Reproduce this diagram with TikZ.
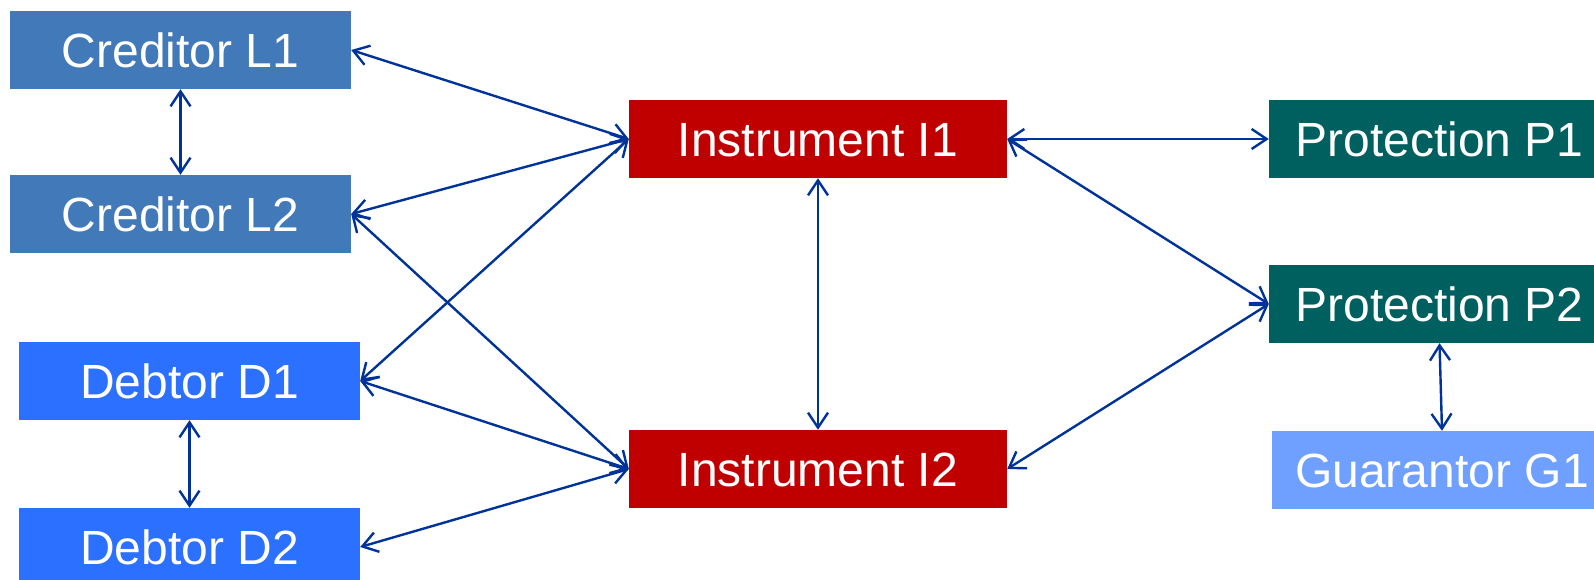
\documentclass[tikz,border=0pt]{standalone}
\usepackage{fontspec}
\setmainfont{Liberation Sans}
\usetikzlibrary{arrows.meta}
\definecolor{credc}{RGB}{66,121,185}
\definecolor{debc}{RGB}{43,112,255}
\definecolor{instc}{RGB}{192,0,0}
\definecolor{protc}{RGB}{0,96,96}
\definecolor{guarc}{RGB}{111,160,255}
\definecolor{arrc}{RGB}{0,51,153}
\tikzset{
  box/.style={rectangle, inner sep=0pt, minimum height=78pt, text=white,
    font=\fontsize{48}{57}\selectfont, text height=34.3pt, text depth=0pt},
  narrow/.style={box, minimum width=341pt},
  wide/.style={box, minimum width=378pt},
  link/.style={draw=arrc, line width=2.4pt,
    {Straight Barb[length=15pt,width=20pt]}-{Straight Barb[length=15pt,width=20pt]}}
}
\begin{document}
\begin{tikzpicture}[x=1pt,y=-1pt]
\useasboundingbox (0,0) rectangle (1594,580);
\node[narrow, fill=credc] (L1) at (180.5,50) {Creditor L1};
\node[narrow, fill=credc] (L2) at (180.5,214) {Creditor L2};
\node[narrow, fill=debc] (D1) at (189.5,381) {Debtor D1};
\node[narrow, fill=debc] (D2) at (189.5,547) {Debtor D2};
\node[wide, fill=instc] (I1) at (818,139) {Instrument I1};
\node[wide, fill=instc] (I2) at (818,469) {Instrument I2};
\node[narrow, fill=protc] (P1) at (1439.5,139) {Protection P1};
\node[narrow, fill=protc] (P2) at (1439.5,304) {Protection P2};
\node[narrow, fill=guarc] (G1) at (1442,470) {Guarantor G1};

\draw[link] (L1.south) -- (L2.north);
\draw[link] (D1.south) -- (D2.north);
\draw[link] (L1.east) -- (I1.west);
\draw[link] (L2.east) -- (I1.west);
\draw[link] (L2.east) -- (I2.west);
\draw[link] (D1.east) -- (I1.west);
\draw[link] (D1.east) -- (I2.west);
\draw[link] (D2.east) -- (I2.west);
\draw[link] (I1.south) -- (I2.north);
\draw[link] (I1.east) -- (P1.west);
\draw[link] (I1.east) -- (P2.west);
\draw[link] (I2.east) -- (P2.west);
\draw[link] (P2.south) -- (G1.north);
\end{tikzpicture}
\end{document}
